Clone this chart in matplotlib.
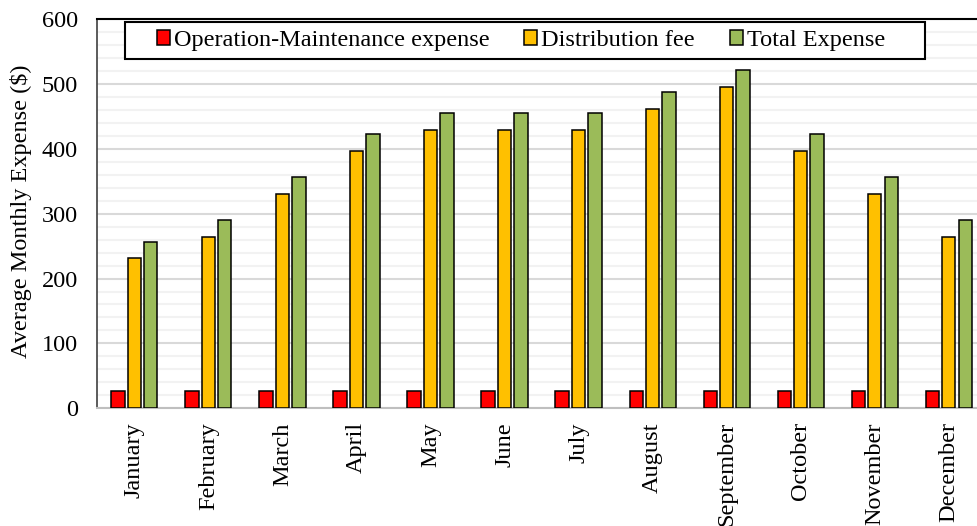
import matplotlib
matplotlib.use("Agg")
import matplotlib.pyplot as plt
import numpy as np
from matplotlib.ticker import MultipleLocator
from matplotlib.patches import Rectangle

months = ["January", "February", "March", "April", "May", "June", "July",
          "August", "September", "October", "November", "December"]
om_expense = [26, 26, 26, 26, 26, 26, 26, 26, 26, 26, 26, 26]
distribution_fee = [231, 264, 330, 396, 429, 429, 429, 462, 495, 396, 330, 264]
total_expense = [257, 290, 356, 422, 455, 455, 455, 488, 521, 422, 356, 290]

series_names = ["Operation-Maintenance expense", "Distribution fee", "Total Expense"]
colors = ["#ff0000", "#ffc000", "#9bbb59"]

plt.rcParams["font.family"] = ["Liberation Serif", "DejaVu Serif"]
FS = 17.5

W, H = 977, 526
fig = plt.figure(figsize=(W / 100, H / 100), dpi=100)
ax = fig.add_axes([97.3 / W, (H - 408.3) / H, 888.5 / W, (408.3 - 19) / H])

x = np.arange(len(months))
width = 0.18
step = 0.222
for i, (vals, name, c) in enumerate(zip([om_expense, distribution_fee, total_expense], series_names, colors)):
    ax.bar(x + (i - 1) * step, vals, width, color=c, edgecolor="black", linewidth=1.1,
           label=name, zorder=3)

ax.set_xlim(-0.5, len(months) - 0.5)
ax.set_ylim(0, 600)
ax.yaxis.set_major_locator(MultipleLocator(100))
ax.yaxis.set_minor_locator(MultipleLocator(20))
ax.grid(axis="y", which="major", color="#d9d9d9", linewidth=1.5, zorder=1)
ax.grid(axis="y", which="minor", color="#f2f2f2", linewidth=1.5, zorder=0)
ax.set_axisbelow(True)

ax.set_xticks(x)
ax.set_xticklabels(months, rotation=90, fontsize=FS)
ax.tick_params(axis="x", length=0, pad=10)
ax.tick_params(axis="y", which="both", length=0, pad=14, labelsize=FS)

ax.set_ylabel("Average Monthly Expense ($)", fontsize=FS)
ax.yaxis.set_label_coords(-0.0735, 0.505)

ax.spines["top"].set_color("black")
ax.spines["top"].set_linewidth(1.5)
ax.spines["left"].set_color("#404040")
ax.spines["left"].set_linewidth(1.2)
ax.spines["bottom"].set_color("#bfbfbf")
ax.spines["bottom"].set_linewidth(1.5)
ax.spines["right"].set_visible(False)

# Legend entries without their own frame; a plain box is drawn around them
leg = ax.legend(loc="center left", bbox_to_anchor=(157 / W, 1 - 40.5 / H),
                bbox_transform=fig.transFigure, ncol=3, fontsize=FS,
                frameon=False, handlelength=0.53, handleheight=0.53,
                handletextpad=0.16, columnspacing=1.44, borderpad=0,
                borderaxespad=0)
box = Rectangle((125 / W, 1 - 59.5 / H), 800 / W, 37.5 / H, transform=fig.transFigure,
                facecolor="white", edgecolor="black", linewidth=1.5, zorder=4)
fig.add_artist(box)
leg.set_zorder(5)
fig.add_artist(leg)

fig.savefig("out.png", dpi=100)
